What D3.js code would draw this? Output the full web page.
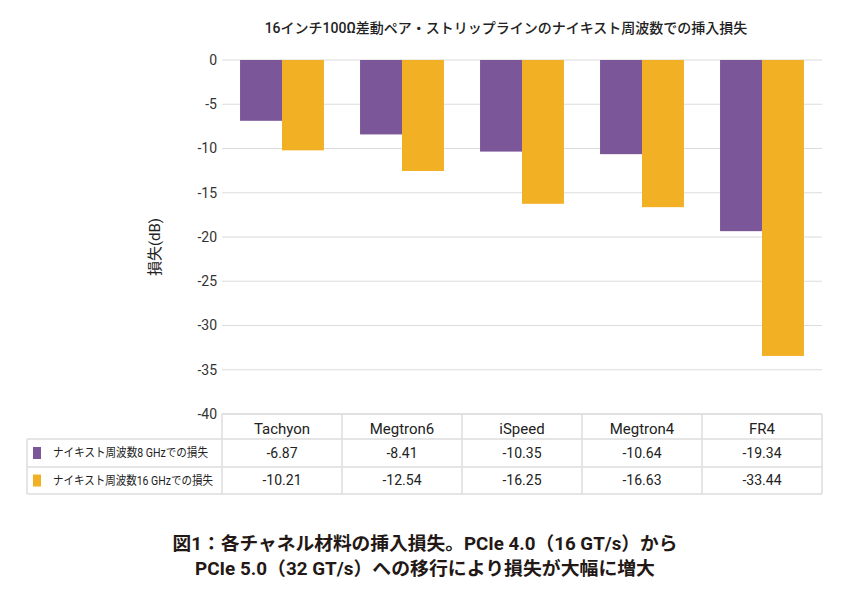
<!DOCTYPE html>
<html>
<head>
<meta charset="utf-8">
<script src="https://cdn.jsdelivr.net/npm/d3@7"></script>
<style>
  body { margin: 0; background: #fff; }
  text { font-family: Roboto, "Noto Sans CJK JP", sans-serif; }
</style>
</head>
<body>
<svg id="chart" width="850" height="595"></svg>
<script>
// Insertion loss per channel material at Nyquist frequency
const materials = ["Tachyon", "Megtron6", "iSpeed", "Megtron4", "FR4"];
const seriesNames = ["ナイキスト周波数8 GHzでの損失", "ナイキスト周波数16 GHzでの損失"];
const loss8 = [-6.87, -8.41, -10.35, -10.64, -19.34];
const loss16 = [-10.21, -12.54, -16.25, -16.63, -33.44];
const yTicks = [0, -5, -10, -15, -20, -25, -30, -35, -40];

const width = 850, height = 595;
const margin = { top: 60, right: 28, bottom: 181, left: 222 };
const svg = d3.select("#chart");

const color = d3.scaleOrdinal()
  .domain(seriesNames)
  .range(["#7b5799", "#f2b124"]);

const x = d3.scaleBand()
  .domain(materials)
  .range([margin.left, width - margin.right]);

const xSub = d3.scaleBand()
  .domain(seriesNames)
  .range([0, x.bandwidth()])
  .paddingOuter(0.43);

const y = d3.scaleLinear()
  .domain([0, -40])
  .range([margin.top, height - margin.bottom]);

// Grid lines
svg.append("g")
  .selectAll("line")
  .data(yTicks)
  .join("line")
  .attr("x1", margin.left)
  .attr("x2", width - margin.right)
  .attr("y1", d => y(d))
  .attr("y2", d => y(d))
  .attr("stroke", "#dcdcdc")
  .attr("stroke-width", 1.2);

// Y tick labels
svg.append("g")
  .selectAll("text")
  .data(yTicks)
  .join("text")
  .attr("x", margin.left - 5)
  .attr("y", d => y(d))
  .attr("dy", "0.35em")
  .attr("text-anchor", "end")
  .style("font-size", "14px")
  .style("fill", "#333")
  .text(d => d);

// Bars
const rows = materials.map((m, i) => ({ m, vals: [loss8[i], loss16[i]] }));
svg.append("g")
  .selectAll("g")
  .data(rows)
  .join("g")
  .attr("transform", d => `translate(${x(d.m)},0)`)
  .selectAll("rect")
  .data(d => d.vals.map((v, j) => ({ s: seriesNames[j], v })))
  .join("rect")
  .attr("x", d => xSub(d.s))
  .attr("width", xSub.bandwidth())
  .attr("y", y(0))
  .attr("height", d => y(d.v) - y(0))
  .attr("fill", d => color(d.s));

// Data table below the chart
const tableTop = y(-40);
const rowH = [25, 28, 27];
const rowY = [tableTop, tableTop + rowH[0], tableTop + rowH[0] + rowH[1], tableTop + rowH[0] + rowH[1] + rowH[2]];
const tableLeft = 27;
const table = svg.append("g");
const borderColor = "#dcdcdc";

// horizontal lines
table.append("line")
  .attr("x1", margin.left).attr("x2", width - margin.right)
  .attr("y1", rowY[0]).attr("y2", rowY[0])
  .attr("stroke", borderColor).attr("stroke-width", 1.5);
rowY.slice(1).forEach(ry => {
  table.append("line")
    .attr("x1", tableLeft).attr("x2", width - margin.right)
    .attr("y1", ry).attr("y2", ry)
    .attr("stroke", borderColor).attr("stroke-width", 1.5);
});
// vertical lines
[...materials.map(m => x(m)), width - margin.right].forEach(vx => {
  table.append("line")
    .attr("x1", vx).attr("x2", vx)
    .attr("y1", rowY[0]).attr("y2", rowY[3])
    .attr("stroke", borderColor).attr("stroke-width", 1.5);
});
table.append("line")
  .attr("x1", tableLeft).attr("x2", tableLeft)
  .attr("y1", rowY[1]).attr("y2", rowY[3])
  .attr("stroke", borderColor).attr("stroke-width", 1.5);

// header
table.selectAll(".hdr")
  .data(materials)
  .join("text")
  .attr("class", "hdr")
  .attr("x", d => x(d) + x.bandwidth() / 2)
  .attr("y", (rowY[0] + rowY[1]) / 2 + 2)
  .attr("dy", "0.35em")
  .attr("text-anchor", "middle")
  .style("font-size", "15px")
  .style("fill", "#222")
  .text(d => d);

// series rows
const legendWidths = [155, 160];
[loss8, loss16].forEach((vals, j) => {
  const cy = (rowY[j + 1] + rowY[j + 2]) / 2;
  table.append("rect")
    .attr("x", tableLeft + 6)
    .attr("y", cy - 6)
    .attr("width", 8)
    .attr("height", 12)
    .attr("fill", color(seriesNames[j]));
  table.append("text")
    .attr("x", tableLeft + 26)
    .attr("y", cy)
    .attr("dy", "0.35em")
    .attr("textLength", legendWidths[j])
    .attr("lengthAdjust", "spacingAndGlyphs")
    .style("font-size", "12px")
    .style("fill", "#222")
    .text(seriesNames[j]);
  table.selectAll(".v" + j)
    .data(vals)
    .join("text")
    .attr("x", (d, i) => x(materials[i]) + x.bandwidth() / 2)
    .attr("y", cy)
    .attr("dy", "0.35em")
    .attr("text-anchor", "middle")
    .style("font-size", "14px")
    .style("fill", "#222")
    .text(d => d.toFixed(2));
});

// Chart title
svg.append("text")
  .attr("x", 506)
  .attr("y", 33)
  .attr("text-anchor", "middle")
  .style("font-size", "14px")
  .style("font-weight", "500")
  .style("fill", "#222")
  .text("16インチ100Ω差動ペア・ストリップラインのナイキスト周波数での挿入損失");

// Y axis label
svg.append("text")
  .attr("transform", `translate(160,${247}) rotate(-90)`)
  .attr("text-anchor", "middle")
  .style("font-size", "15px")
  .style("fill", "#222")
  .text("損失(dB)");

// Figure caption
const caption = svg.append("text")
  .attr("text-anchor", "middle")
  .style("font-size", "18.5px")
  .style("font-weight", "bold")
  .style("fill", "#231815");
caption.append("tspan").attr("x", 425).attr("y", 550)
  .attr("textLength", 505)
  .attr("lengthAdjust", "spacingAndGlyphs")
  .text("図1：各チャネル材料の挿入損失。PCIe 4.0（16 GT/s）から");
caption.append("tspan").attr("x", 425).attr("y", 575)
  .attr("textLength", 460)
  .attr("lengthAdjust", "spacingAndGlyphs")
  .text("PCIe 5.0（32 GT/s）への移行により損失が大幅に増大");
</script>
</body>
</html>
